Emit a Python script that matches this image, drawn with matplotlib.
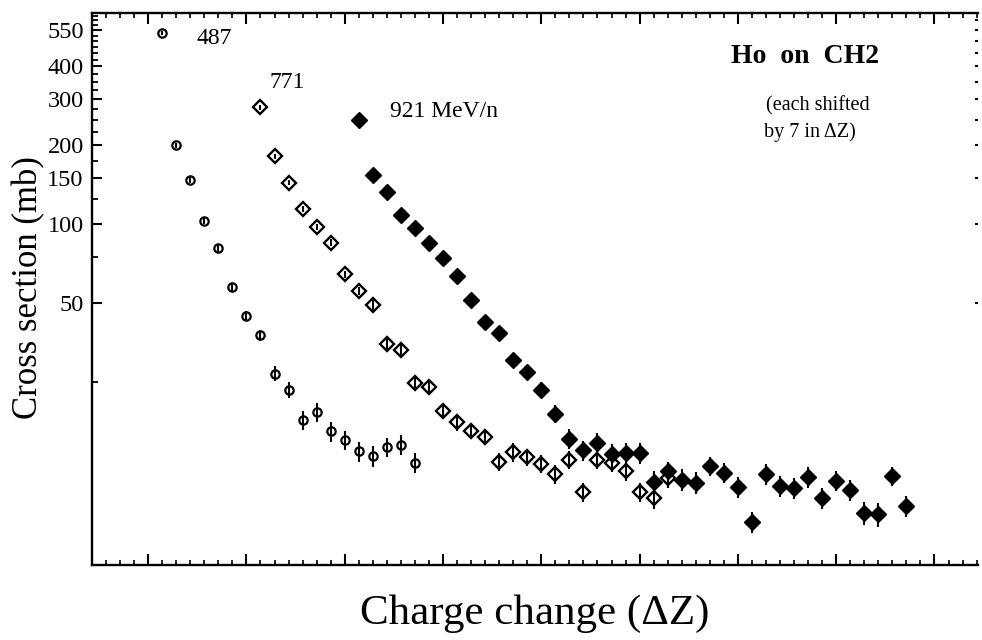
import numpy as np
import matplotlib
matplotlib.use("Agg")
import matplotlib.pyplot as plt
from matplotlib.ticker import FixedLocator, FixedFormatter, NullFormatter

plt.rcParams['font.family'] = ['Liberation Serif', 'DejaVu Serif']

# charge change dZ (each beam energy shifted by 7)
dz_487 = list(range(1, 20))
xs_487 = [538, 200, 148, 103, 81, 57.4, 44.8, 37.6, 26.9, 23.3, 17.9, 19.2, 16.2,
          15.0, 13.6, 13.0, 14.1, 14.4, 12.3]
err_487 = [10, 5, 4, 3, 2.5, 2, 2, 1.8, 1.8, 1.6, 1.5, 1.6, 1.4,
           1.3, 1.2, 1.2, 1.2, 1.3, 1.1]

dz_771 = list(range(8, 38))
xs_771 = [279, 182, 144, 114, 97.6, 85.1, 64.5, 55.7, 49.2, 34.8, 33.1, 24.7, 23.9,
          19.4, 17.5, 16.2, 15.4, 12.4, 13.5, 12.9, 12.2, 11.1, 12.6, 9.5, 12.6,
          12.3, 11.4, 9.5, 9.0, 10.7]
err_771 = [5, 4, 3, 3, 2.5, 2.5, 2, 2, 2, 1.5, 1.5, 1.3, 1.3,
           1.2, 1.2, 1.1, 1.1, 1.0, 1.1, 1.0, 1.0, 0.9, 1.0, 0.8, 1.0,
           1.0, 0.9, 0.8, 0.8, 0.9]

dz_921 = list(range(15, 55))
xs_921 = [250, 154, 133, 108, 96.5, 85, 74.3, 63.2, 51.2, 42.2, 38.3, 30.3, 27.2,
          23.3, 18.9, 15.2, 13.7, 14.6, 13.3, 13.4, 13.4, 10.4, 11.4, 10.6, 10.3,
          11.9, 11.25, 9.9, 7.3, 11.1, 10.0, 9.85, 10.8, 9.0, 10.5, 9.7, 7.9, 7.8,
          10.9, 8.4]
err_921 = [5, 4, 3.5, 3, 3, 2.5, 2.5, 2, 2, 2, 2, 1.8, 1.8,
           1.6, 1.5, 1.3, 1.2, 1.3, 1.2, 1.2, 1.2, 1.0, 1.0, 1.0, 1.0,
           1.0, 1.0, 0.9, 0.7, 1.0, 0.9, 0.9, 1.0, 0.8, 0.9, 0.9, 0.8, 0.8,
           0.9, 0.8]

y_major = [50, 100, 150, 200, 300, 400, 550]
y_labels = ['50', '100', '150', '200', '300', '400', '550']

fig = plt.figure(figsize=(9.82, 6.40), dpi=100)
ax = fig.add_axes([92/982, 1-565/640, 886/982, 552/640])

ax.errorbar(dz_487, xs_487, yerr=err_487, fmt='o', ms=6, mfc='none', mec='black',
            mew=1.6, ecolor='black', elinewidth=1.5, capsize=0)
ax.errorbar(dz_771, xs_771, yerr=err_771, fmt='D', ms=7.5, mfc='none', mec='black',
            mew=1.7, ecolor='black', elinewidth=1.5, capsize=0)
ax.errorbar(dz_921, xs_921, yerr=err_921, fmt='D', ms=8, mfc='black', mec='black',
            mew=1.0, ecolor='black', elinewidth=1.5, capsize=0)

ax.set_yscale('log')
ax.set_ylim(5, 640)
ax.set_xlim(-4, 59.1)

ax.yaxis.set_major_locator(FixedLocator(y_major))
ax.yaxis.set_major_formatter(FixedFormatter(y_labels))
ax.yaxis.set_minor_locator(FixedLocator([v for v in range(25, 650, 25) if v not in y_major]))
ax.yaxis.set_minor_formatter(NullFormatter())
ax.xaxis.set_major_locator(FixedLocator(range(0, 57, 7)))
ax.xaxis.set_minor_locator(FixedLocator(range(-4, 60)))
ax.xaxis.set_major_formatter(NullFormatter())

ax.tick_params(axis='both', which='both', direction='in', color='black')
ax.tick_params(axis='x', which='major', length=8, width=1.5, top=True)
ax.tick_params(axis='x', which='minor', length=3.5, width=1.2, top=True)
ax.tick_params(axis='y', which='major', length=7, width=1.5, labelsize=17.5, pad=6, right=False)
ax.tick_params(axis='y', which='minor', length=4, width=1.3, right=False)

for s in ['left', 'bottom', 'top']:
    ax.spines[s].set_linewidth(1.7)
ax.spines['right'].set_visible(False)

ax2 = ax.twinx()
ax2.set_yscale('log')
ax2.set_ylim(5, 640)
ax2.yaxis.set_major_locator(FixedLocator(range(50, 650, 50)))
ax2.yaxis.set_major_formatter(NullFormatter())
ax2.yaxis.set_minor_locator(FixedLocator([]))
ax2.tick_params(axis='y', which='major', direction='in', length=2, width=1.5)
for s in ax2.spines.values():
    s.set_visible(False)

ax.text(0.1174, 0.9547, '487', transform=ax.transAxes, fontsize=17, ha='left', va='center')
ax.text(0.2009, 0.875, '771', transform=ax.transAxes, fontsize=17, ha='left', va='center')
ax.text(0.3363, 0.8207, '921 MeV/n', transform=ax.transAxes, fontsize=17, ha='left', va='center')
ax.text(0.7212, 0.922, 'Ho  on  CH2', transform=ax.transAxes, fontsize=20, fontweight='bold',
        ha='left', va='center')
ax.text(0.7607, 0.8315, '(each shifted', transform=ax.transAxes, fontsize=14.5, ha='left', va='center')
ax.text(0.7585, 0.7844, 'by 7 in ΔZ)', transform=ax.transAxes, fontsize=14.5, ha='left', va='center')

fig.text(29/982, 1-288/640, 'Cross section (mb)', rotation=90, fontsize=25, ha='center', va='center')
fig.text(535/982, 1-614/640, 'Charge change (ΔZ)', fontsize=31, ha='center', va='center')

fig.savefig('out.png', dpi=100)
